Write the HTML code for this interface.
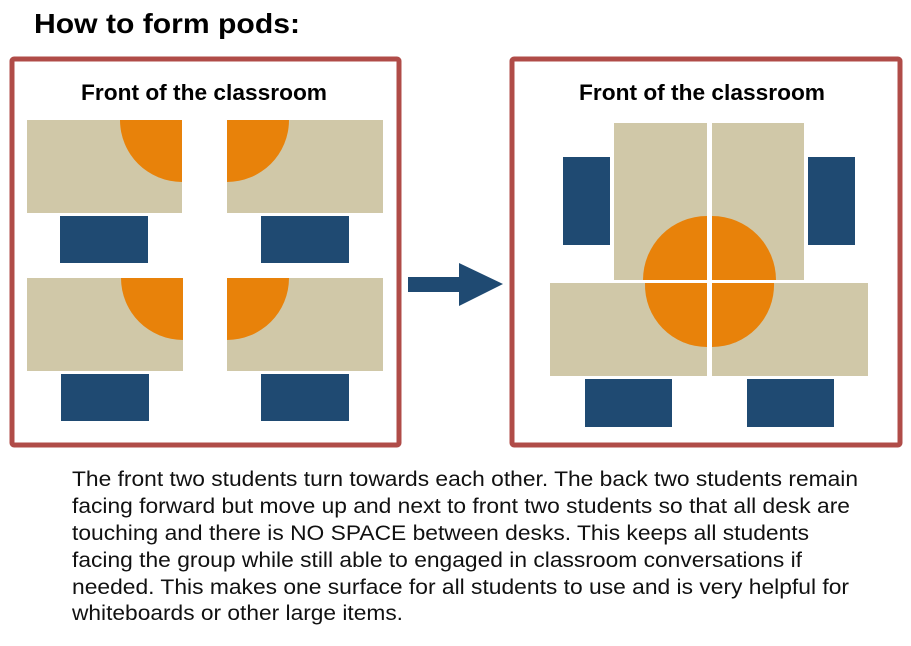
<!DOCTYPE html>
<html><head><meta charset="utf-8"><style>
body{margin:0;width:911px;height:646px;background:#fff;overflow:hidden;font-family:"Liberation Sans",Arial,sans-serif;}
</style></head><body>
<svg width="911" height="646" xmlns="http://www.w3.org/2000/svg" style="position:absolute;left:0;top:0">
<text x="34" y="33" font-family="Liberation Sans, sans-serif" font-weight="bold" font-size="28" textLength="266" lengthAdjust="spacingAndGlyphs" fill="#000">How to form pods:</text>
<rect x="12" y="59" width="387" height="386" fill="#fff" stroke="#b04c48" stroke-width="5" rx="2"/>
<rect x="512" y="59" width="388" height="386" fill="#fff" stroke="#b04c48" stroke-width="5" rx="2"/>
<text x="81" y="100" font-family="Liberation Sans, sans-serif" font-weight="bold" font-size="22" textLength="246" lengthAdjust="spacingAndGlyphs">Front of the classroom</text>
<text x="579" y="100" font-family="Liberation Sans, sans-serif" font-weight="bold" font-size="22" textLength="246" lengthAdjust="spacingAndGlyphs">Front of the classroom</text>
<g fill="#d0c8a8">
<rect x="27" y="120" width="155" height="93"/>
<rect x="227" y="120" width="156" height="93"/>
<rect x="27" y="278" width="156" height="93"/>
<rect x="227" y="278" width="156" height="93"/>
</g>
<g fill="#e8820a">
<path d="M182 120 L120 120 A62 62 0 0 0 182 182 Z"/>
<path d="M227 120 L289 120 A62 62 0 0 1 227 182 Z"/>
<path d="M183 278 L121 278 A62 62 0 0 0 183 340 Z"/>
<path d="M227 278 L289 278 A62 62 0 0 1 227 340 Z"/>
</g>
<g fill="#1f4a72">
<rect x="60" y="216" width="88" height="47"/>
<rect x="261" y="216" width="88" height="47"/>
<rect x="61" y="374" width="88" height="47"/>
<rect x="261" y="374" width="88" height="47"/>
</g>
<path d="M408 277 L459 277 L459 263 L503 284 L459 306 L459 292 L408 292 Z" fill="#1f4a72"/>
<g fill="#d0c8a8">
<rect x="614" y="123" width="93" height="157"/>
<rect x="712" y="123" width="92" height="157"/>
<rect x="550" y="283" width="157" height="93"/>
<rect x="712" y="283" width="156" height="93"/>
</g>
<g fill="#e8820a">
<path d="M707 280 L707 216 A64 64 0 0 0 643 280 Z"/>
<path d="M712 280 L712 216 A64 64 0 0 1 776 280 Z"/>
<path d="M707 283 L645 283 A62 62 0 0 0 707 347 Z"/>
<path d="M712 283 L774 283 A62 62 0 0 1 712 347 Z"/>
</g>
<g fill="#1f4a72">
<rect x="563" y="157" width="47" height="88"/>
<rect x="808" y="157" width="47" height="88"/>
<rect x="585" y="379" width="87" height="48"/>
<rect x="747" y="379" width="87" height="48"/>
</g>
<g font-family="Liberation Sans, sans-serif" font-size="21" fill="#111">
<text x="72" y="486" textLength="786" lengthAdjust="spacingAndGlyphs">The front two students turn towards each other. The back two students remain</text>
<text x="72" y="513" textLength="778" lengthAdjust="spacingAndGlyphs">facing forward but move up and next to front two students so that all desk are</text>
<text x="72" y="540" textLength="737" lengthAdjust="spacingAndGlyphs">touching and there is NO SPACE between desks. This keeps all students</text>
<text x="72" y="567" textLength="730" lengthAdjust="spacingAndGlyphs">facing the group while still able to engaged in classroom conversations if</text>
<text x="72" y="594" textLength="777" lengthAdjust="spacingAndGlyphs">needed. This makes one surface for all students to use and is very helpful for</text>
<text x="72" y="620" textLength="331" lengthAdjust="spacingAndGlyphs">whiteboards or other large items.</text>
</g>
</svg>
</body></html>
